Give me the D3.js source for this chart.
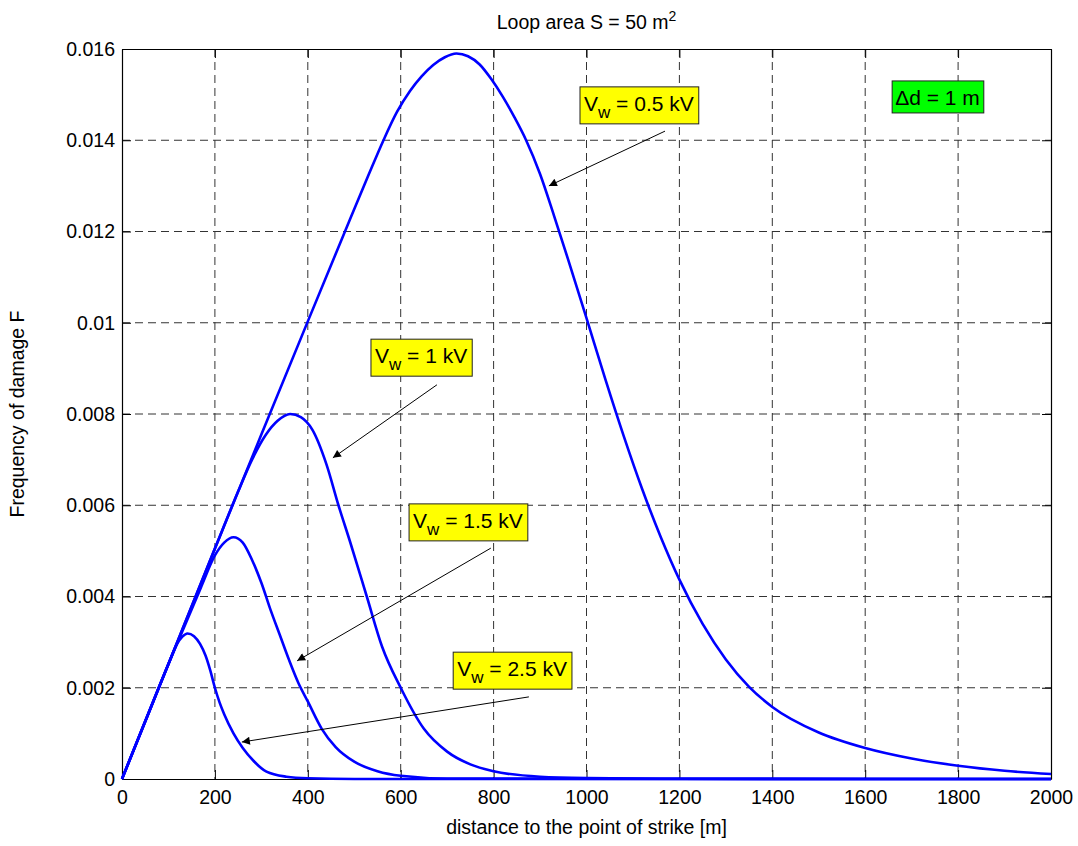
<!DOCTYPE html>
<html>
<head>
<meta charset="utf-8">
<script src="https://cdn.jsdelivr.net/npm/d3@7"></script>
<style>
  html, body { margin: 0; padding: 0; background: #fff; }
  svg text { font-family: "Liberation Sans", Arial, Helvetica, sans-serif; fill: #000; }
</style>
</head>
<body>
<svg id="chart" width="1078" height="846"></svg>
<script>
// Distance to the strike point [m] and frequency of damage F for each withstand voltage
const dist05 = [0, 100, 200, 300, 400, 480, 530, 562, 592, 620, 645, 670, 695, 720, 745, 770, 795, 820, 845, 870, 900, 930, 960, 1000, 1040, 1080, 1120, 1160, 1200, 1250, 1300, 1350, 1400, 1500, 1600, 1700, 1800, 1900, 2000];
const f05    = [0, 0.00252, 0.00505, 0.00755, 0.01003, 0.0120, 0.01322, 0.01398, 0.01462, 0.01508, 0.0154, 0.01565, 0.01582, 0.0159, 0.01584, 0.01566, 0.01534, 0.01495, 0.0145, 0.0140, 0.01326, 0.01235, 0.0114, 0.0101, 0.00878, 0.00752, 0.00635, 0.0053, 0.00437, 0.0034, 0.00262, 0.00202, 0.00158, 0.00102, 0.00068, 0.00045, 0.00029, 0.00018, 0.00011];

const dist1 = [0, 100, 200, 250, 280, 310, 335, 362, 385, 410, 440, 466, 491, 527, 560, 600, 650, 700, 750, 800, 900, 1000, 1200, 2000];
const f1    = [0, 0.00252, 0.00505, 0.0063, 0.0070, 0.00755, 0.00785, 0.0080, 0.00793, 0.00765, 0.0069, 0.0060, 0.0052, 0.0040, 0.0029, 0.0020, 0.0011, 0.0006, 0.00032, 0.00017, 0.00005, 0.00002, 0.000005, 0];

const dist15 = [0, 100, 170, 200, 220, 240, 260, 280, 300, 320, 340, 360, 380, 400, 430, 460, 500, 550, 600, 700, 2000];
const f15    = [0, 0.00252, 0.0042, 0.0049, 0.00518, 0.0053, 0.00518, 0.0048, 0.0043, 0.0037, 0.00315, 0.0026, 0.0021, 0.0017, 0.0011, 0.0007, 0.00038, 0.00017, 0.00007, 0.00001, 0];

const dist25 = [0, 50, 100, 118, 130, 141, 155, 168, 180, 190, 200, 210, 220, 240, 260, 283, 311, 354, 400, 500, 2000];
const f25    = [0, 0.00126, 0.00252, 0.00295, 0.00312, 0.00319, 0.00313, 0.00296, 0.0027, 0.00238, 0.0020, 0.00168, 0.00142, 0.0010, 0.00068, 0.0004, 0.00016, 0.00005, 0.000015, 0, 0];

const xTicks = [0, 200, 400, 600, 800, 1000, 1200, 1400, 1600, 1800, 2000];
const yTicks = [0, 0.002, 0.004, 0.006, 0.008, 0.01, 0.012, 0.014, 0.016];
const yTickLabels = ["0", "0.002", "0.004", "0.006", "0.008", "0.01", "0.012", "0.014", "0.016"];

// Text boxes with arrows: label voltage, box top-left corner, arrow tail and head (data units)
const noteVoltages = ["0.5", "1", "1.5", "2.5"];
const noteBoxAt   = [[986, 0.01517], [536, 0.00964], [618, 0.00603], [713, 0.00278]];
const noteTail    = [[1169, 0.01420], [678, 0.00864], [794, 0.00506], [876, 0.00180]];
const noteHead    = [[919, 0.01300], [454, 0.00704], [377, 0.00259], [258, 0.00081]];
const stepNote = "\u0394d = 1 m";
const stepNoteAt = [1658, 0.01530];

const svg = d3.select("#chart");
const W = 1078, H = 846;
const margin = { left: 122, top: 49, right: W - 1051, bottom: H - 779 };
const iw = W - margin.left - margin.right;
const ih = H - margin.top - margin.bottom;
const fontPx = 19.5;

svg.append("rect").attr("width", W).attr("height", H).attr("fill", "#fff");

const x = d3.scaleLinear().domain([0, 2000]).range([0, iw]);
const y = d3.scaleLinear().domain([0, 0.016]).range([ih, 0]);

const g = svg.append("g").attr("transform", `translate(${margin.left},${margin.top})`);

// Dashed grid
g.append("g").selectAll("line").data(xTicks.slice(1, -1)).join("line")
  .attr("x1", d => x(d)).attr("x2", d => x(d)).attr("y1", 0).attr("y2", ih)
  .attr("stroke", "#333").attr("stroke-width", 1).attr("stroke-dasharray", "8,5");
g.append("g").selectAll("line").data(yTicks.slice(1, -1)).join("line")
  .attr("y1", d => y(d)).attr("y2", d => y(d)).attr("x1", 0).attr("x2", iw)
  .attr("stroke", "#333").attr("stroke-width", 1).attr("stroke-dasharray", "8,5");

// Axes with inward ticks on all four sides
const axB = g.append("g").attr("transform", `translate(0,${ih})`)
  .call(d3.axisBottom(x).tickValues(xTicks).tickSizeInner(-9).tickSizeOuter(0).tickPadding(11).tickFormat(d3.format("d")));
const axL = g.append("g")
  .call(d3.axisLeft(y).tickValues(yTicks).tickSizeInner(-9).tickSizeOuter(0).tickPadding(7).tickFormat((d, i) => yTickLabels[i]));
const axT = g.append("g")
  .call(d3.axisTop(x).tickValues(xTicks).tickSizeInner(-9).tickSizeOuter(0).tickFormat(""));
const axR = g.append("g").attr("transform", `translate(${iw},0)`)
  .call(d3.axisRight(y).tickValues(yTicks).tickSizeInner(-9).tickSizeOuter(0).tickFormat(""));
[axB, axL, axT, axR].forEach(a => {
  a.select(".domain").attr("stroke", "#000").attr("stroke-width", 1.2);
  a.selectAll(".tick line").attr("stroke", "#000").attr("stroke-width", 1);
  a.selectAll("text").attr("font-size", fontPx).attr("font-family", "Liberation Sans, Arial, sans-serif").attr("fill", "#000");
});

// Curves
const line = d3.line().x(d => x(d[0])).y(d => y(d[1])).curve(d3.curveMonotoneX);
const series = [[dist05, f05], [dist1, f1], [dist15, f15], [dist25, f25]];
g.append("g").selectAll("path").data(series).join("path")
  .attr("d", s => line(s[0].map((d, i) => [d, s[1][i]])))
  .attr("fill", "none").attr("stroke", "#0000ff").attr("stroke-width", 2.6)
  .attr("stroke-linejoin", "round");

// Arrow marker
svg.append("defs").append("marker")
  .attr("id", "head").attr("viewBox", "0 0 10 10").attr("refX", 10).attr("refY", 5)
  .attr("markerWidth", 16).attr("markerHeight", 8).attr("markerUnits", "userSpaceOnUse")
  .attr("orient", "auto")
  .append("path").attr("d", "M0,0 L10,5 L0,10 Z").attr("fill", "#000");

// Annotations
noteVoltages.forEach((v, i) => {
  const ng = g.append("g");
  ng.append("line")
    .attr("x1", x(noteTail[i][0])).attr("y1", y(noteTail[i][1]))
    .attr("x2", x(noteHead[i][0])).attr("y2", y(noteHead[i][1]))
    .attr("stroke", "#000").attr("stroke-width", 1).attr("marker-end", "url(#head)");
  const bx = x(noteBoxAt[i][0]), by = y(noteBoxAt[i][1]);
  const box = ng.append("rect").attr("x", bx).attr("y", by).attr("height", 37)
    .attr("fill", "#ffff00").attr("stroke", "#222").attr("stroke-width", 1);
  const t = ng.append("text").attr("x", bx + 4).attr("y", by + 24).attr("font-size", 21);
  t.append("tspan").text("V");
  t.append("tspan").attr("dy", 7).attr("font-size", 17).text("w");
  t.append("tspan").attr("dy", -7).text(` = ${v} kV`);
  box.attr("width", t.node().getBBox().width + 9);
});
{
  const ng = g.append("g");
  const bx = x(stepNoteAt[0]), by = y(stepNoteAt[1]);
  const box = ng.append("rect").attr("x", bx).attr("y", by).attr("height", 32)
    .attr("fill", "#00ff00").attr("stroke", "#222").attr("stroke-width", 1);
  const t = ng.append("text").attr("x", bx + 3).attr("y", by + 24).attr("font-size", 21).text(stepNote);
  box.attr("width", t.node().getBBox().width + 7);
}

// Title and axis labels
const title = svg.append("text").attr("x", margin.left + iw / 2).attr("y", 29)
  .attr("text-anchor", "middle").attr("font-size", fontPx);
title.append("tspan").text("Loop area S = 50 m");
title.append("tspan").attr("dy", -8).attr("font-size", 14).text("2");

svg.append("text").attr("x", margin.left + iw / 2).attr("y", 834)
  .attr("text-anchor", "middle").attr("font-size", fontPx)
  .text("distance to the point of strike [m]");
svg.append("text").attr("transform", `translate(24,${margin.top + ih / 2}) rotate(-90)`)
  .attr("text-anchor", "middle").attr("font-size", fontPx)
  .text("Frequency of damage F");
</script>
</body>
</html>
